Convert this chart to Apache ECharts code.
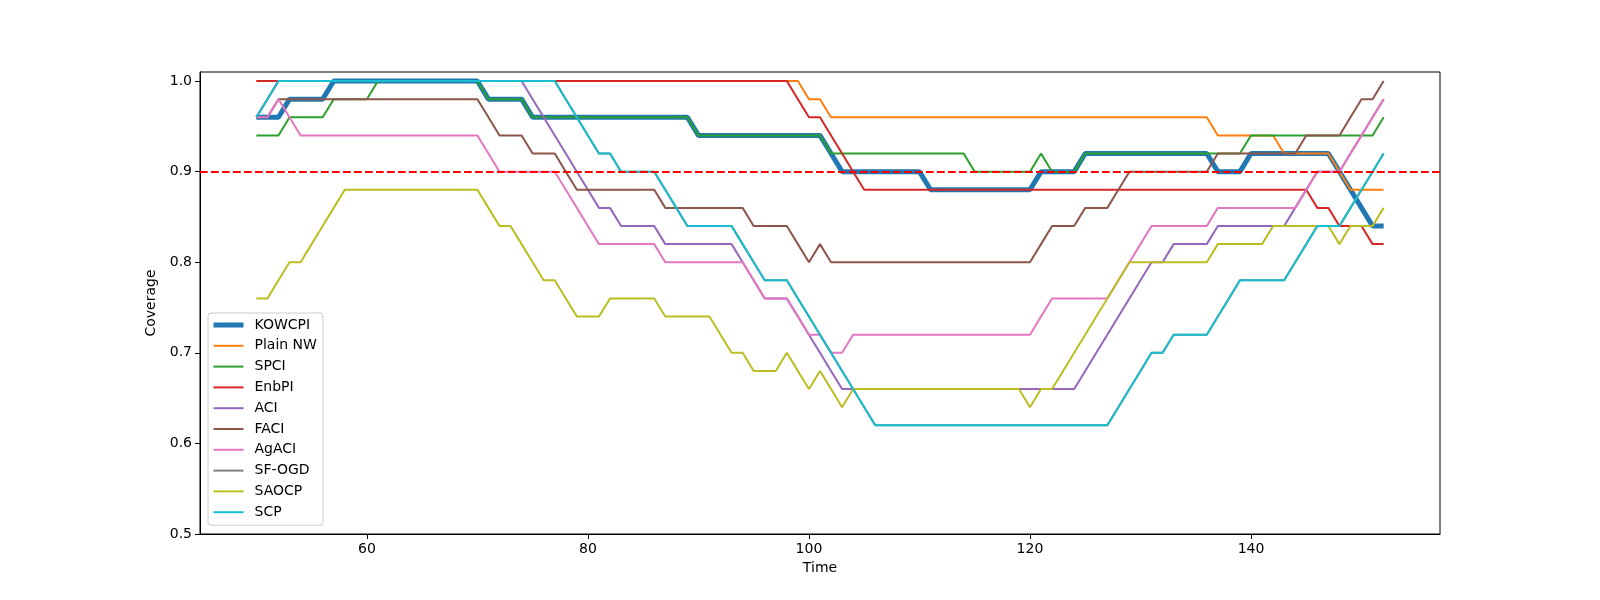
<!DOCTYPE html>
<html>
<head>
<meta charset="utf-8">
<script src="https://cdn.jsdelivr.net/npm/echarts@6/dist/echarts.min.js"></script>
<style>
html,body{margin:0;padding:0;background:#fff;}
#chart{width:1600px;height:600px;}
</style>
</head>
<body>
<div id="chart"></div>
<script>
// ---- data (time 50..152) ----
const time = [
 50,51,52,53,54,55,56,57,58,59,
 60,61,62,63,64,65,66,67,68,69,
 70,71,72,73,74,75,76,77,78,79,
 80,81,82,83,84,85,86,87,88,89,
 90,91,92,93,94,95,96,97,98,99,
 100,101,102,103,104,105,106,107,108,109,
 110,111,112,113,114,115,116,117,118,119,
 120,121,122,123,124,125,126,127,128,129,
 130,131,132,133,134,135,136,137,138,139,
 140,141,142,143,144,145,146,147,148,149,
 150,151,152];

const kowcpi = [
 0.96,0.96,0.96,0.98,0.98,0.98,0.98,1.00,1.00,1.00,
 1.00,1.00,1.00,1.00,1.00,1.00,1.00,1.00,1.00,1.00,
 1.00,0.98,0.98,0.98,0.98,0.96,0.96,0.96,0.96,0.96,
 0.96,0.96,0.96,0.96,0.96,0.96,0.96,0.96,0.96,0.96,
 0.94,0.94,0.94,0.94,0.94,0.94,0.94,0.94,0.94,0.94,
 0.94,0.94,0.92,0.90,0.90,0.90,0.90,0.90,0.90,0.90,
 0.90,0.88,0.88,0.88,0.88,0.88,0.88,0.88,0.88,0.88,
 0.88,0.90,0.90,0.90,0.90,0.92,0.92,0.92,0.92,0.92,
 0.92,0.92,0.92,0.92,0.92,0.92,0.92,0.90,0.90,0.90,
 0.92,0.92,0.92,0.92,0.92,0.92,0.92,0.92,0.90,0.88,
 0.86,0.84,0.84];

const plainNW = [
 1.00,1.00,1.00,1.00,1.00,1.00,1.00,1.00,1.00,1.00,
 1.00,1.00,1.00,1.00,1.00,1.00,1.00,1.00,1.00,1.00,
 1.00,1.00,1.00,1.00,1.00,1.00,1.00,1.00,1.00,1.00,
 1.00,1.00,1.00,1.00,1.00,1.00,1.00,1.00,1.00,1.00,
 1.00,1.00,1.00,1.00,1.00,1.00,1.00,1.00,1.00,1.00,
 0.98,0.98,0.96,0.96,0.96,0.96,0.96,0.96,0.96,0.96,
 0.96,0.96,0.96,0.96,0.96,0.96,0.96,0.96,0.96,0.96,
 0.96,0.96,0.96,0.96,0.96,0.96,0.96,0.96,0.96,0.96,
 0.96,0.96,0.96,0.96,0.96,0.96,0.96,0.94,0.94,0.94,
 0.94,0.94,0.94,0.92,0.92,0.92,0.92,0.92,0.90,0.88,
 0.88,0.88,0.88];

const spci = [
 0.94,0.94,0.94,0.96,0.96,0.96,0.96,0.98,0.98,0.98,
 0.98,1.00,1.00,1.00,1.00,1.00,1.00,1.00,1.00,1.00,
 1.00,0.98,0.98,0.98,0.98,0.96,0.96,0.96,0.96,0.96,
 0.96,0.96,0.96,0.96,0.96,0.96,0.96,0.96,0.96,0.96,
 0.94,0.94,0.94,0.94,0.94,0.94,0.94,0.94,0.94,0.94,
 0.94,0.94,0.92,0.92,0.92,0.92,0.92,0.92,0.92,0.92,
 0.92,0.92,0.92,0.92,0.92,0.90,0.90,0.90,0.90,0.90,
 0.90,0.92,0.90,0.90,0.90,0.92,0.92,0.92,0.92,0.92,
 0.92,0.92,0.92,0.92,0.92,0.92,0.92,0.92,0.92,0.92,
 0.94,0.94,0.94,0.94,0.94,0.94,0.94,0.94,0.94,0.94,
 0.94,0.94,0.96];

const enbpi = [
 1.00,1.00,1.00,1.00,1.00,1.00,1.00,1.00,1.00,1.00,
 1.00,1.00,1.00,1.00,1.00,1.00,1.00,1.00,1.00,1.00,
 1.00,1.00,1.00,1.00,1.00,1.00,1.00,1.00,1.00,1.00,
 1.00,1.00,1.00,1.00,1.00,1.00,1.00,1.00,1.00,1.00,
 1.00,1.00,1.00,1.00,1.00,1.00,1.00,1.00,1.00,0.98,
 0.96,0.96,0.94,0.92,0.90,0.88,0.88,0.88,0.88,0.88,
 0.88,0.88,0.88,0.88,0.88,0.88,0.88,0.88,0.88,0.88,
 0.88,0.88,0.88,0.88,0.88,0.88,0.88,0.88,0.88,0.88,
 0.88,0.88,0.88,0.88,0.88,0.88,0.88,0.88,0.88,0.88,
 0.88,0.88,0.88,0.88,0.88,0.88,0.86,0.86,0.84,0.84,
 0.84,0.82,0.82];

const aci = [
 0.96,0.98,1.00,1.00,1.00,1.00,1.00,1.00,1.00,1.00,
 1.00,1.00,1.00,1.00,1.00,1.00,1.00,1.00,1.00,1.00,
 1.00,1.00,1.00,1.00,1.00,0.98,0.96,0.94,0.92,0.90,
 0.88,0.86,0.86,0.84,0.84,0.84,0.84,0.82,0.82,0.82,
 0.82,0.82,0.82,0.82,0.80,0.78,0.76,0.76,0.76,0.74,
 0.72,0.70,0.68,0.66,0.66,0.66,0.66,0.66,0.66,0.66,
 0.66,0.66,0.66,0.66,0.66,0.66,0.66,0.66,0.66,0.66,
 0.66,0.66,0.66,0.66,0.66,0.68,0.70,0.72,0.74,0.76,
 0.78,0.80,0.80,0.82,0.82,0.82,0.82,0.84,0.84,0.84,
 0.84,0.84,0.84,0.84,0.86,0.88,0.90,0.90,0.90,0.92,
 0.94,0.96,0.98];

const faci = [
 0.96,0.96,0.98,0.98,0.98,0.98,0.98,0.98,0.98,0.98,
 0.98,0.98,0.98,0.98,0.98,0.98,0.98,0.98,0.98,0.98,
 0.98,0.96,0.94,0.94,0.94,0.92,0.92,0.92,0.90,0.88,
 0.88,0.88,0.88,0.88,0.88,0.88,0.88,0.86,0.86,0.86,
 0.86,0.86,0.86,0.86,0.86,0.84,0.84,0.84,0.84,0.82,
 0.80,0.82,0.80,0.80,0.80,0.80,0.80,0.80,0.80,0.80,
 0.80,0.80,0.80,0.80,0.80,0.80,0.80,0.80,0.80,0.80,
 0.80,0.82,0.84,0.84,0.84,0.86,0.86,0.86,0.88,0.90,
 0.90,0.90,0.90,0.90,0.90,0.90,0.90,0.92,0.92,0.92,
 0.92,0.92,0.92,0.92,0.92,0.94,0.94,0.94,0.94,0.96,
 0.98,0.98,1.00];

const agaci = [
 0.96,0.96,0.98,0.96,0.94,0.94,0.94,0.94,0.94,0.94,
 0.94,0.94,0.94,0.94,0.94,0.94,0.94,0.94,0.94,0.94,
 0.94,0.92,0.90,0.90,0.90,0.90,0.90,0.90,0.88,0.86,
 0.84,0.82,0.82,0.82,0.82,0.82,0.82,0.80,0.80,0.80,
 0.80,0.80,0.80,0.80,0.80,0.78,0.76,0.76,0.76,0.74,
 0.72,0.72,0.70,0.70,0.72,0.72,0.72,0.72,0.72,0.72,
 0.72,0.72,0.72,0.72,0.72,0.72,0.72,0.72,0.72,0.72,
 0.72,0.74,0.76,0.76,0.76,0.76,0.76,0.76,0.78,0.80,
 0.82,0.84,0.84,0.84,0.84,0.84,0.84,0.86,0.86,0.86,
 0.86,0.86,0.86,0.86,0.86,0.88,0.90,0.90,0.90,0.92,
 0.94,0.96,0.98];

const sfogd = [
 0.96,0.98,1.00,1.00,1.00,1.00,1.00,1.00,1.00,1.00,
 1.00,1.00,1.00,1.00,1.00,1.00,1.00,1.00,1.00,1.00,
 1.00,1.00,1.00,1.00,1.00,1.00,1.00,1.00,0.98,0.96,
 0.94,0.92,0.92,0.90,0.90,0.90,0.90,0.88,0.86,0.84,
 0.84,0.84,0.84,0.84,0.82,0.80,0.78,0.78,0.78,0.76,
 0.74,0.72,0.70,0.68,0.66,0.64,0.62,0.62,0.62,0.62,
 0.62,0.62,0.62,0.62,0.62,0.62,0.62,0.62,0.62,0.62,
 0.62,0.62,0.62,0.62,0.62,0.62,0.62,0.62,0.64,0.66,
 0.68,0.70,0.70,0.72,0.72,0.72,0.72,0.74,0.76,0.78,
 0.78,0.78,0.78,0.78,0.80,0.82,0.84,0.84,0.84,0.86,
 0.88,0.90,0.92];

const saocp = [
 0.76,0.76,0.78,0.80,0.80,0.82,0.84,0.86,0.88,0.88,
 0.88,0.88,0.88,0.88,0.88,0.88,0.88,0.88,0.88,0.88,
 0.88,0.86,0.84,0.84,0.82,0.80,0.78,0.78,0.76,0.74,
 0.74,0.74,0.76,0.76,0.76,0.76,0.76,0.74,0.74,0.74,
 0.74,0.74,0.72,0.70,0.70,0.68,0.68,0.68,0.70,0.68,
 0.66,0.68,0.66,0.64,0.66,0.66,0.66,0.66,0.66,0.66,
 0.66,0.66,0.66,0.66,0.66,0.66,0.66,0.66,0.66,0.66,
 0.64,0.66,0.66,0.68,0.70,0.72,0.74,0.76,0.78,0.80,
 0.80,0.80,0.80,0.80,0.80,0.80,0.80,0.82,0.82,0.82,
 0.82,0.82,0.84,0.84,0.84,0.84,0.84,0.84,0.82,0.84,
 0.84,0.84,0.86];

const scp = [
 0.96,0.98,1.00,1.00,1.00,1.00,1.00,1.00,1.00,1.00,
 1.00,1.00,1.00,1.00,1.00,1.00,1.00,1.00,1.00,1.00,
 1.00,1.00,1.00,1.00,1.00,1.00,1.00,1.00,0.98,0.96,
 0.94,0.92,0.92,0.90,0.90,0.90,0.90,0.88,0.86,0.84,
 0.84,0.84,0.84,0.84,0.82,0.80,0.78,0.78,0.78,0.76,
 0.74,0.72,0.70,0.68,0.66,0.64,0.62,0.62,0.62,0.62,
 0.62,0.62,0.62,0.62,0.62,0.62,0.62,0.62,0.62,0.62,
 0.62,0.62,0.62,0.62,0.62,0.62,0.62,0.62,0.64,0.66,
 0.68,0.70,0.70,0.72,0.72,0.72,0.72,0.74,0.76,0.78,
 0.78,0.78,0.78,0.78,0.80,0.82,0.84,0.84,0.84,0.86,
 0.88,0.90,0.92];

const targetLevel = 0.9;
const xTicks = [60, 80, 100, 120, 140];
const yTicks = [0.5, 0.6, 0.7, 0.8, 0.9, 1.0];

const seriesDefs = [
  {name: 'KOWCPI',   data: kowcpi,  color: '#1f77b4', width: 5},
  {name: 'Plain NW', data: plainNW, color: '#ff7f0e', width: 2},
  {name: 'SPCI',     data: spci,    color: '#2ca02c', width: 2},
  {name: 'EnbPI',    data: enbpi,   color: '#d62728', width: 2},
  {name: 'ACI',      data: aci,     color: '#9467bd', width: 2},
  {name: 'FACI',     data: faci,    color: '#8c564b', width: 2},
  {name: 'AgACI',    data: agaci,   color: '#e377c2', width: 2},
  {name: 'SF-OGD',   data: sfogd,   color: '#7f7f7f', width: 2},
  {name: 'SAOCP',    data: saocp,   color: '#bcbd22', width: 2},
  {name: 'SCP',      data: scp,     color: '#17becf', width: 2}
];

const FONT = 'DejaVu Sans';
const series = seriesDefs.map(function (s) {
  return {
    name: s.name,
    type: 'line',
    symbol: 'none',
    showSymbol: false,
    data: time.map(function (t, i) { return [t, s.data[i]]; }),
    lineStyle: {color: s.color, width: s.width},
    itemStyle: {color: s.color},
    emphasis: {disabled: true}
  };
});
series.push({
  name: 'target',
  type: 'line',
  data: [],
  markLine: {
    silent: true,
    symbol: 'none',
    label: {show: false},
    lineStyle: {color: '#ff0000', width: 2, type: [7.7, 3.3]},
    data: [{yAxis: targetLevel}]
  },
  z: 5
});

const chart = echarts.init(document.getElementById('chart'), null, {renderer: 'canvas'});
chart.setOption({
  animation: false,
  backgroundColor: '#ffffff',
  grid: {left: 200, right: 160, top: 72, bottom: 66, show: true,
         borderColor: '#000', borderWidth: 1, backgroundColor: 'transparent'},
  legend: {
    data: seriesDefs.map(function (s) {
      return {name: s.name, lineStyle: {width: s.width, color: s.color}};
    }),
    orient: 'vertical',
    left: 208, top: 313,
    padding: [5, 6, 6, 3],
    itemWidth: 30, itemHeight: 14, itemGap: 6.8,
    itemStyle: {opacity: 0, borderWidth: 0},
    backgroundColor: 'rgba(255,255,255,0.8)',
    borderColor: '#cccccc', borderWidth: 1, borderRadius: 3,
    textStyle: {fontFamily: FONT, fontSize: 14, color: '#000', lineHeight: 14, padding: [0, 0, 0, 6]}
  },
  xAxis: {
    type: 'value', min: 44.9, max: 157.1,
    name: 'Time', nameLocation: 'middle', nameGap: 27,
    nameTextStyle: {fontFamily: FONT, fontSize: 14, color: '#000'},
    axisLine: {show: true, lineStyle: {color: '#000', width: 1}},
    axisTick: {show: true, inside: false, length: 5, lineStyle: {color: '#000'}, customValues: xTicks},
    axisLabel: {fontFamily: FONT, fontSize: 14, color: '#000', margin: 8, customValues: xTicks},
    splitLine: {show: false}
  },
  yAxis: {
    type: 'value', min: 0.5, max: 1.01,
    name: 'Coverage', nameLocation: 'middle', nameGap: 38,
    nameTextStyle: {fontFamily: FONT, fontSize: 14, color: '#000'},
    axisLine: {show: true, lineStyle: {color: '#000', width: 1}},
    axisTick: {show: true, inside: false, length: 5, lineStyle: {color: '#000'}, customValues: yTicks},
    axisLabel: {fontFamily: FONT, fontSize: 14, color: '#000', margin: 8, customValues: yTicks,
                formatter: function (v) { return v.toFixed(1); }},
    splitLine: {show: false}
  },
  series: series
});
</script>
</body>
</html>
